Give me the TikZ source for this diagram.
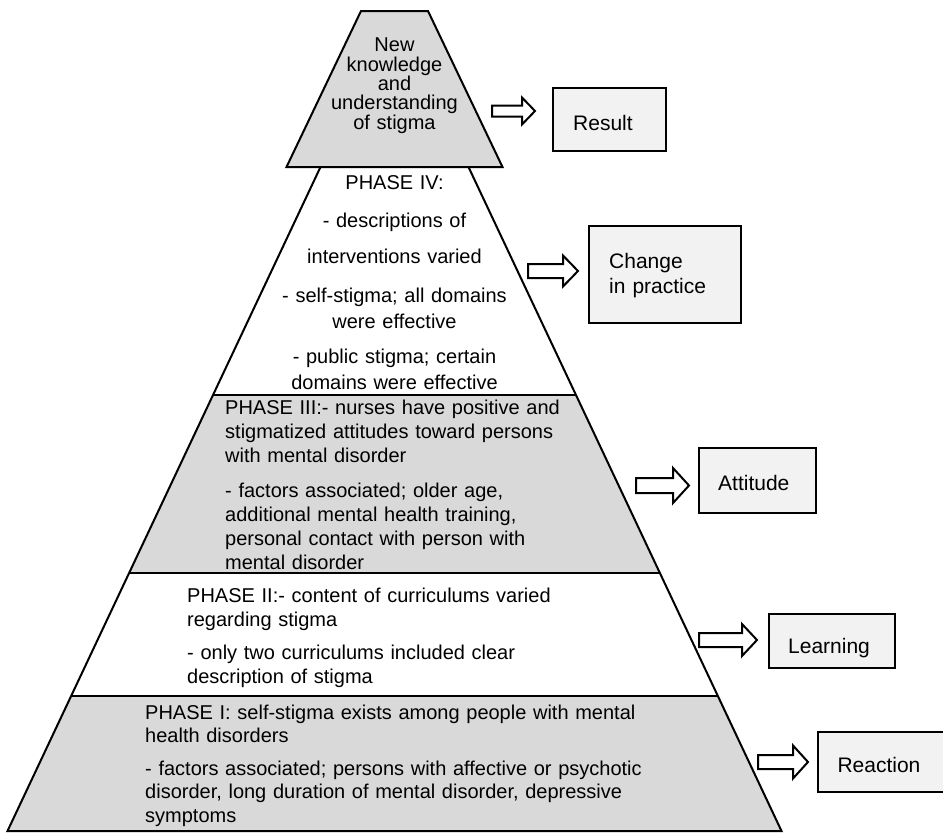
\documentclass[tikz,border=0pt]{standalone}
\usepackage{fontspec}
\setmainfont{Liberation Sans}
\definecolor{pyrgray}{HTML}{D9D9D9}
\definecolor{boxgray}{HTML}{F2F2F2}
\tikzset{
  outline/.style={draw=black, line width=2pt, line join=miter},
  boxnode/.style={draw=black, line width=2pt, fill=boxgray, inner sep=0pt, anchor=north west},
  pyrtext/.style={font=\fontsize{20}{24}\selectfont, align=left, anchor=base west, inner sep=0pt},
  boxtext/.style={font=\fontsize{21}{25}\selectfont, anchor=base west, inner sep=0pt, align=left},
  blockarrow/.style={draw=black, line width=2pt, fill=white, line join=miter},
}
\newcommand\blkarrow[6]{\draw[blockarrow] (#1,#3-#4) -- (#6,#3-#4) -- (#6,#3-#5) -- (#2,#3) -- (#6,#3+#5) -- (#6,#3+#4) -- (#1,#3+#4) -- cycle;}
\begin{document}
\begin{tikzpicture}[x=1pt,y=-1pt]
\clip (0,0) rectangle (943,833);
\fill[white] (0,0) rectangle (943,833);

% pyramid bands
\fill[pyrgray] (213,395) -- (576,395) -- (660,573) -- (129,573) -- cycle;
\fill[pyrgray] (71,696) -- (718,696) -- (781.5,831) -- (7.5,831) -- cycle;
\draw[outline] (320.5,167) -- (7.5,831) -- (781.5,831) -- (468.5,167);
\draw[outline] (213,395) -- (576,395);
\draw[outline] (129,573) -- (660,573);
\draw[outline] (71,696) -- (718,696);
% top trapezoid
\draw[outline, fill=pyrgray] (361,11) -- (428,11) -- (502.5,167) -- (286.5,167) -- cycle;

% texts in pyramid
\node[font=\fontsize{20}{19.4}\selectfont, align=center, text width=200pt, anchor=base, inner sep=0pt] (toptext) at (394.5,51.7)
  {New\\knowledge\\and\\understanding\\of stigma};
\node[font=\fontsize{20}{26}\selectfont, align=center, text width=400pt, anchor=base, inner sep=0pt] (phase4) at (394.5,189.3)
  {PHASE IV:\\[12pt]
   - descriptions of\\[10pt]
   interventions varied\\[13pt]
   - self-stigma; all domains\\
   were effective\\[9pt]
   - public stigma; certain\\
   domains were effective};
\node[pyrtext, text width=420pt] (phase3) at (225,414)
  {PHASE III:- nurses have positive and\\
   stigmatized attitudes toward persons\\
   with mental disorder\\[11pt]
   - factors associated; older age,\\
   additional mental health training,\\
   personal contact with person with\\
   mental disorder};
\node[pyrtext, text width=500pt] (phase2) at (187,602.7)
  {PHASE II:- content of curriculums varied\\
   regarding stigma\\[8.6pt]
   - only two curriculums included clear\\
   description of stigma};
\node[pyrtext, text width=560pt, font=\fontsize{20}{23.6}\selectfont] (phase1) at (145,719.3)
  {PHASE I: self-stigma exists among people with mental\\
   health disorders\\[8.6pt]
   - factors associated; persons with affective or psychotic\\
   disorder, long duration of mental disorder, depressive\\
   symptoms};

% block arrows
\blkarrow{492}{535}{111}{5.5}{13.5}{522}
\blkarrow{528}{578}{271}{7}{15.5}{563}
\blkarrow{636}{689}{485.5}{7.5}{17.5}{673}
\blkarrow{699}{757}{640}{7}{16}{742}
\blkarrow{758}{808}{762}{7}{16.5}{793}

% boxes
\node[boxnode, minimum width=113pt, minimum height=63pt] (result) at (552,87) {};
\node[boxnode, minimum width=152pt, minimum height=97pt] (change) at (588,225) {};
\node[boxnode, minimum width=117pt, minimum height=65pt] (attitude) at (698,447) {};
\node[boxnode, minimum width=126pt, minimum height=54pt] (learning) at (768,613) {};
\node[boxnode, minimum width=143pt, minimum height=60pt] (reaction) at (817,731) {};

\node[boxtext] (resultT) at (573,130) {Result};
\node[boxtext, text width=125pt] (changeT) at (609,268.3) {Change\\in practice};
\node[boxtext] (attitudeT) at (718,490.5) {Attitude};
\node[boxtext] (learningT) at (788,653.3) {Learning};
\node[boxtext] (reactionT) at (837.3,772.3) {Reaction};
\end{tikzpicture}
\end{document}
